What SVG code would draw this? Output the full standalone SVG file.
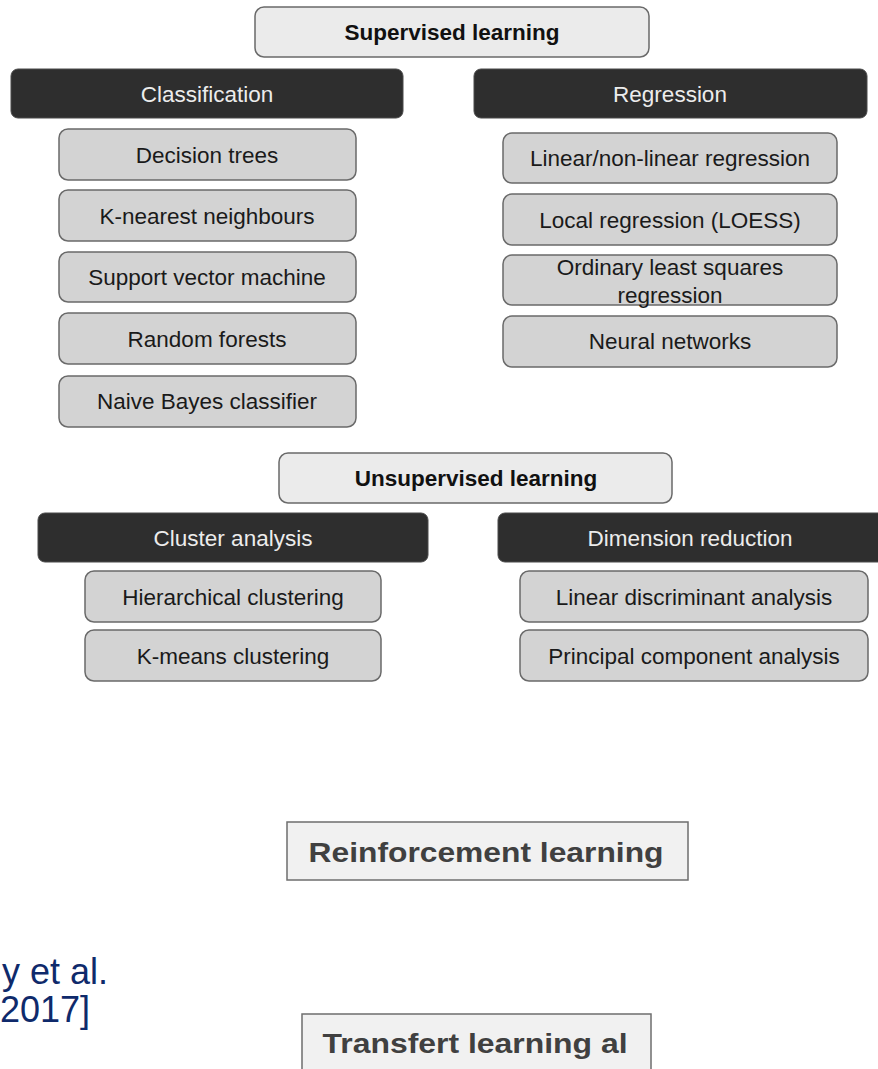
<svg xmlns="http://www.w3.org/2000/svg" width="878" height="1069" viewBox="0 0 878 1069">
<style>
text{font-family:"Liberation Sans",Arial,Helvetica,sans-serif;text-anchor:middle}
.hdr rect{fill:#ebebeb;stroke:#6a6a6a;stroke-width:1.5}
.hdr text{font-size:22.5px;font-weight:bold;fill:#111}
.cat rect{fill:#2e2e2e;stroke:#4a4a4a;stroke-width:1}
.cat text{font-size:22.5px;fill:#ececec}
.item rect{fill:#d3d3d3;stroke:#6a6a6a;stroke-width:1.5}
.item text{font-size:22.5px;fill:#1a1a1a}
.box rect{fill:#f1f1f1;stroke:#6e6e6e;stroke-width:1.5}
.box text{font-size:28px;font-weight:bold;fill:#404040}
.cite{font-size:36px;fill:#0f2a6b;text-anchor:end}
</style>
<rect width="878" height="1069" fill="#ffffff"/>
<g id="connectors"/>
<g id="supervised" class="hdr"><rect x="255" y="7" width="394" height="50" rx="9"/><text x="452" y="40">Supervised learning</text></g>
<g id="classification" class="cat"><rect x="11" y="69" width="392" height="49" rx="7"/><text x="207" y="102">Classification</text></g>
<g id="regression" class="cat"><rect x="474" y="69" width="393" height="49" rx="7"/><text x="670" y="102">Regression</text></g>
<g id="decision-trees" class="item"><rect x="59" y="129" width="297" height="51" rx="9"/><text x="207" y="163">Decision trees</text></g>
<g id="knn" class="item"><rect x="59" y="190" width="297" height="51" rx="9"/><text x="207" y="224">K-nearest neighbours</text></g>
<g id="svm" class="item"><rect x="59" y="252" width="297" height="50" rx="9"/><text x="207" y="285">Support vector machine</text></g>
<g id="random-forests" class="item"><rect x="59" y="313" width="297" height="51" rx="9"/><text x="207" y="347">Random forests</text></g>
<g id="naive-bayes" class="item"><rect x="59" y="376" width="297" height="51" rx="9"/><text x="207" y="409">Naive Bayes classifier</text></g>
<g id="linear-regression" class="item"><rect x="503" y="133" width="334" height="50" rx="9"/><text x="670" y="166">Linear/non-linear regression</text></g>
<g id="loess" class="item"><rect x="503" y="194" width="334" height="51" rx="9"/><text x="670" y="228">Local regression (LOESS)</text></g>
<g id="ols" class="item"><rect x="503" y="255" width="334" height="50" rx="9"/><text x="670" y="275">Ordinary least squares</text><text x="670" y="303">regression</text></g>
<g id="neural-networks" class="item"><rect x="503" y="316" width="334" height="51" rx="9"/><text x="670" y="349">Neural networks</text></g>
<g id="unsupervised" class="hdr"><rect x="279" y="453" width="393" height="50" rx="9"/><text x="476" y="486">Unsupervised learning</text></g>
<g id="cluster-analysis" class="cat"><rect x="38" y="513" width="390" height="49" rx="7"/><text x="233" y="546">Cluster analysis</text></g>
<g id="dimension-reduction" class="cat"><rect x="498" y="513" width="390" height="49" rx="7"/><text x="690" y="546">Dimension reduction</text></g>
<g id="hierarchical" class="item"><rect x="85" y="571" width="296" height="51" rx="9"/><text x="233" y="605">Hierarchical clustering</text></g>
<g id="kmeans" class="item"><rect x="85" y="630" width="296" height="51" rx="9"/><text x="233" y="664">K-means clustering</text></g>
<g id="lda" class="item"><rect x="520" y="571" width="348" height="51" rx="9"/><text x="694" y="605">Linear discriminant analysis</text></g>
<g id="pca" class="item"><rect x="520" y="630" width="348" height="51" rx="9"/><text x="694" y="664">Principal component analysis</text></g>
<g id="reinforcement" class="box"><rect x="287" y="822" width="401" height="58"/><text x="486" y="862" textLength="355" lengthAdjust="spacingAndGlyphs">Reinforcement learning</text></g>
<g id="transfert" class="box"><rect x="302" y="1014" width="349" height="70"/><text x="475" y="1053" textLength="305" lengthAdjust="spacingAndGlyphs">Transfert learning al</text></g>
<g id="citation"><text class="cite" x="108" y="984">y et al.</text><text class="cite" x="90" y="1022">2017]</text></g>
</svg>
